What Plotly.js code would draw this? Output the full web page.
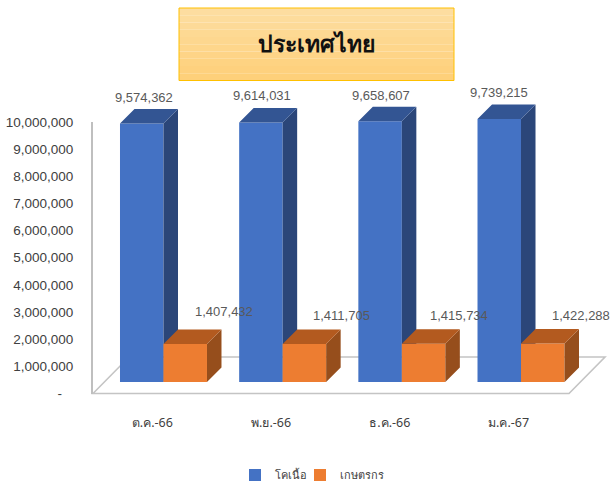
<!DOCTYPE html>
<html><head><meta charset="utf-8">
<script src="https://cdn.plot.ly/plotly-3.0.1.min.js"></script>
<style>html,body{margin:0;padding:0;background:#fff}#c{width:611px;height:486px}</style>
</head><body><div id="c"></div>
<script>
const categories = ['ต.ค.-66','พ.ย.-66','ธ.ค.-66','ม.ค.-67'];
const seriesBeef = [9574362, 9614031, 9658607, 9739215];
const seriesFarmers = [1407432, 1411705, 1415734, 1422288];
const yTicks = [0,1000000,2000000,3000000,4000000,5000000,6000000,7000000,8000000,9000000,10000000];
const nameBeef = 'โคเนื้อ', nameFarmers = 'เกษตรกร', titleText = 'ประเทศไทย';

const W=611,H=486;
const px=x=>x/W, py=y=>1-y/H;
const fmt=v=>v.toLocaleString('en-US');
const SANS='"Liberation Sans",sans-serif';

// geometry of the pseudo-3D depth, in axis units
const scale=27;                 // px per million on the bar axes
const unit=119.17;              // px per category
const barW=43.5/unit;
const depthX=14.5/unit, depthY=14.5/scale*1e6;
const idx=categories.map((_,i)=>i);

function faces(values,x0of,sideColor,topColor,xa,ya){
  const tx=[],ty=[],sx=[],sy=[];
  values.forEach((v,i)=>{
    const a=x0of(i),b=a+barW;
    tx.push(a,b,b+depthX,a+depthX,a,null);
    ty.push(v,v,v+depthY,v+depthY,v,null);
    sx.push(b,b+depthX,b+depthX,b,b,null);
    sy.push(0,depthY,v+depthY,v,0,null);
  });
  const mk=(x,y,c)=>({type:'scatter',mode:'none',x,y,fill:'toself',fillcolor:c,xaxis:xa,yaxis:ya,showlegend:false,hoverinfo:'skip'});
  return [mk(sx,sy,sideColor),mk(tx,ty,topColor)];
}

const traces=[
  {type:'scatter',mode:'none',x:categories,y:yTicks.slice(0,4),xaxis:'x',yaxis:'y',showlegend:false,hoverinfo:'skip'},
  {type:'bar',name:nameBeef,legend:'legend',showlegend:true,x:idx,y:seriesBeef,width:barW,offset:-barW,marker:{color:'#4472c4'},xaxis:'x2',yaxis:'y2',hoverinfo:'y'},
  ...faces(seriesBeef,i=>i-barW,'#2b4679','#335593','x2','y2'),
  {type:'bar',name:nameFarmers,legend:'legend2',showlegend:true,x:idx,y:seriesFarmers,width:barW,offset:0,marker:{color:'#ed7d31'},xaxis:'x3',yaxis:'y3',hoverinfo:'y'},
  ...faces(seriesFarmers,i=>i,'#964e1c','#b35a1f','x3','y3')
];

const barXAxis={visible:false,domain:[px(103.9),px(580.6)],range:[-0.5,3.5]};
const barYAxis={visible:false,domain:[py(382),py(100)],range:[0,282/scale*1e6]};

const labelFont={family:SANS,size:13,color:'#595959'};
const beefShift=[[2,-26],[1,-27],[1,-26],[0,-27]];
const farmerShift=[[39,-33],[37,-28],[35,-28],[38,-28]];
const annotations=[];
seriesBeef.forEach((v,i)=>annotations.push({xref:'x2',yref:'y2',x:i-barW/2,y:v,xanchor:'center',yanchor:'middle',text:fmt(v),showarrow:false,xshift:beefShift[i][0],yshift:-beefShift[i][1],font:labelFont}));
seriesFarmers.forEach((v,i)=>annotations.push({xref:'x3',yref:'y3',x:i+barW/2,y:v,xanchor:'center',yanchor:'middle',text:fmt(v),showarrow:false,xshift:farmerShift[i][0],yshift:-farmerShift[i][1],font:labelFont}));
annotations.push({xref:'paper',yref:'paper',x:px(316.5),y:py(43),xanchor:'center',yanchor:'middle',text:'<b>'+titleText+'</b>',showarrow:false,font:{family:'"Noto Sans","Liberation Sans",sans-serif',size:23,color:'#111'}});

// title box (banded vertical gradient)
const shapes=[];
const bands=10, boxT=8, boxB=80.5, boxL=179, boxR=454;
for(let i=0;i<bands;i++){
  const t=i/(bands-1);
  const c=`rgb(${Math.round(253+t*1)},${Math.round(221-t*13)},${Math.round(160-t*38)})`;
  shapes.push({type:'rect',xref:'paper',yref:'paper',x0:px(boxL),x1:px(boxR),y0:py(boxT+(boxB-boxT)*i/bands),y1:py(boxT+(boxB-boxT)*(i+1)/bands),fillcolor:c,line:{width:0},layer:'below'});
}
shapes.push({type:'rect',xref:'paper',yref:'paper',x0:px(boxL),x1:px(boxR),y0:py(boxT),y1:py(boxB),line:{color:'#ffc000',width:1},layer:'below'});
// floor
const P=(x,y)=>px(x).toFixed(5)+','+py(y).toFixed(5);
shapes.push({type:'path',xref:'paper',yref:'paper',path:`M${P(93,393.5)}L${P(129,357)}L${P(605,357)}L${P(569,393.5)}Z`,fillcolor:'#ffffff',line:{color:'#c4c4c4',width:1.6},layer:'below'});

const legendBase={orientation:'h',xanchor:'left',y:py(475),yanchor:'middle',font:{family:'"Noto Sans",sans-serif',size:11,color:'#404040'},itemclick:false,itemdoubleclick:false,bgcolor:'rgba(0,0,0,0)'};
const layout={
  width:W,height:H,margin:{l:0,r:0,t:0,b:0,autoexpand:false},paper_bgcolor:'#fff',plot_bgcolor:'rgba(0,0,0,0)',
  showlegend:true,
  legend:{...legendBase,x:px(235)},
  legend2:{...legendBase,x:px(300)},
  xaxis:{domain:[px(93),px(568)],type:'category',range:[-0.5,3.5],showgrid:false,zeroline:false,showline:false,ticks:'',ticklabelstandoff:20,tickfont:{family:'"Noto Sans",sans-serif',size:12.5,color:'#404040'},anchor:'y'},
  yaxis:{domain:[py(393.5),py(122)],range:[0,10000000],tickmode:'array',tickvals:yTicks,ticktext:yTicks.map(v=>v===0?'-\u00a0\u00a0\u00a0':fmt(v)),showgrid:false,zeroline:false,showline:true,linecolor:'#bfbfbf',linewidth:2,ticks:'',ticklabelstandoff:15,tickfont:{family:SANS,size:13.5,color:'#404040'},anchor:'x'},
  xaxis2:{...barXAxis,anchor:'y2'},yaxis2:{...barYAxis,anchor:'x2'},
  xaxis3:{...barXAxis,anchor:'y3'},yaxis3:{...barYAxis,anchor:'x3'},
  annotations,shapes
};
Plotly.newPlot('c',traces,layout,{displayModeBar:false,staticPlot:true});
</script></body></html>
